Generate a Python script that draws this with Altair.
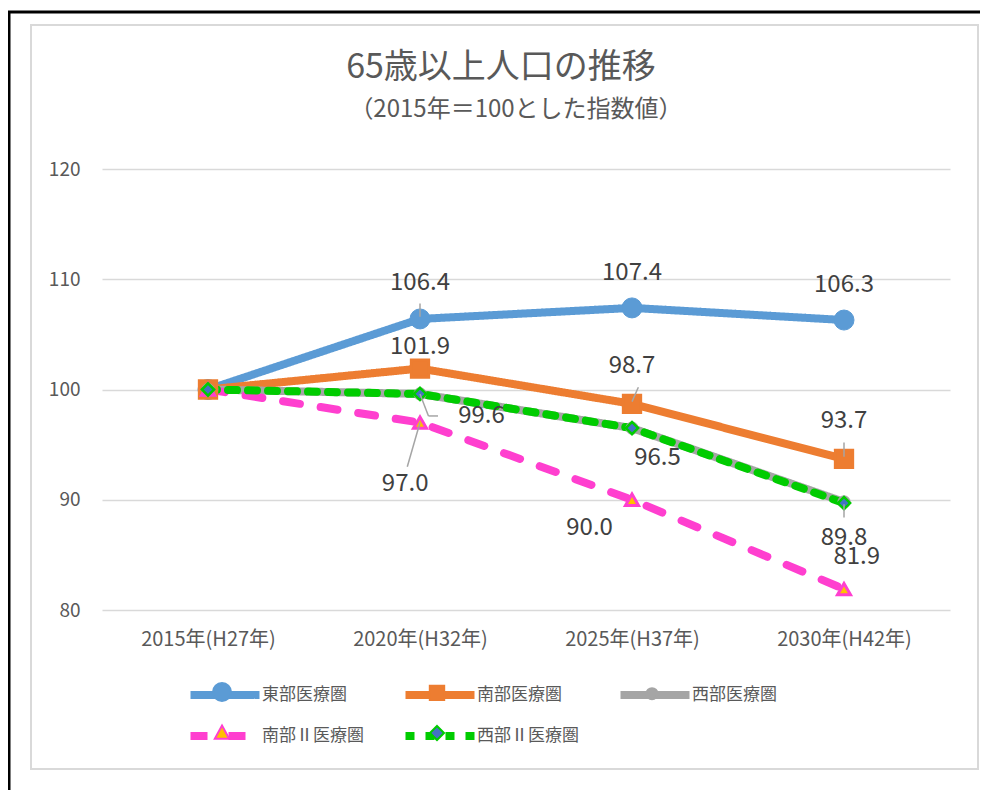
import altair as alt
import pandas as pd

# ---------------- data ----------------
title_text = "65歳以上人口の推移"
subtitle_text = "（2015年＝100とした指数値）"
categories = ["2015年(H27年)", "2020年(H32年)", "2025年(H37年)", "2030年(H42年)"]
series_names = ["東部医療圏", "南部医療圏", "西部医療圏", "南部Ⅱ医療圏", "西部Ⅱ医療圏"]
east = [100.0, 106.4, 107.4, 106.3]
south = [100.0, 101.9, 98.7, 93.7]
west = [100.0, 99.6, 96.5, 89.8]
south2 = [100.0, 97.0, 90.0, 81.9]
west2 = [100.0, 99.6, 96.5, 89.7]
series_values = [east, south, west, south2, west2]
labelled_series = [True, True, True, True, False]

# ---------------- style ----------------
FONT = "Noto Sans CJK JP"
line_colors = ["#5B9BD5", "#ED7D31", "#A5A5A5", "#FF3FCF", "#00CC00"]
line_widths = [8, 8, 4, 5, 5]
line_dashes = [[1, 0], [1, 0], [1, 0], [17, 21], [9, 11]]
marker_shapes = ["circle", "square", "circle", "triangle-up", "diamond"]
marker_fills = ["#5B9BD5", "#ED7D31", "#A5A5A5", "#FFC000", "#4472C4"]
marker_strokes = ["#5B9BD5", "#ED7D31", "#A5A5A5", "#FF3FCF", "#00CC00"]
marker_sizes = [400, 300, 150, 170, 150]
marker_stroke_w = [1, 3, 1, 3, 2.5]
# legend symbols as unit paths (scaled by the legend symbol size)
legend_line_path = "M-2.3,0H2.3"
legend_marker_paths = [
    "M-0.6,0A0.6,0.6,0,1,1,0.6,0A0.6,0.6,0,1,1,-0.6,0Z",
    "M-0.48,-0.48H0.48V0.48H-0.48Z",
    "M-0.37,0A0.37,0.37,0,1,1,0.37,0A0.37,0.37,0,1,1,-0.37,0Z",
    "M0,-0.5L0.48,0.38H-0.48Z",
    "M0,-0.47L0.47,0L0,0.47L-0.47,0Z",
]
# label placement offsets (category units, value units) for points 2020-2030
label_offsets = [
    [(0.0, 3.3), (0.0, 3.2), (0.0, 3.2)],
    [(0.0, 2.0), (0.0, 3.4), (0.0, 3.4)],
    [(0.29, -2.0), (0.12, -2.7), (0.0, -3.3)],
    [(-0.07, -5.55), (-0.2, -2.55), (0.06, 2.9)],
]
# leader lines (x1, y1, x2, y2) in data coordinates
leaders = [
    (1.0, 107.8, 1.0, 106.6),
    (2.03, 100.2, 2.0, 98.9),
    (3.0, 95.2, 3.0, 93.9),
    (1.0, 99.6, 1.04, 97.6),
    (1.04, 97.6, 1.085, 97.6),
    (3.0, 89.6, 3.0, 88.4),
    (1.0, 97.0, 0.94, 93.0),
]

# ---------------- tables ----------------
rows = []
for s, vals in zip(series_names, series_values):
    for i, v in enumerate(vals):
        rows.append({"series": s, "idx": i, "value": v})
df = pd.DataFrame(rows)

lab_rows = []
for si, (s, vals) in enumerate(zip(series_names, series_values)):
    if not labelled_series[si]:
        continue
    for k, (dx, dy) in enumerate(label_offsets[si]):
        i = k + 1
        lab_rows.append({"lx": i + dx, "ly": vals[i] + dy, "text": f"{vals[i]:.1f}"})
df_lab = pd.DataFrame(lab_rows)
df_lead = pd.DataFrame(leaders, columns=["x1", "y1", "x2", "y2"])

label_expr = "[" + ",".join(f"'{c}'" for c in categories) + "][datum.value]"

xscale = alt.Scale(domain=[-0.5, 3.5], nice=False, zero=False)
yscale = alt.Scale(domain=[80, 120], nice=False, zero=False)

x_enc = alt.X(
    "idx:Q", scale=xscale,
    axis=alt.Axis(values=[0, 1, 2, 3], labelExpr=label_expr, grid=False, ticks=False,
                  domain=False, title=None, labelFontSize=20, labelColor="#595959",
                  labelFont=FONT, labelPadding=19),
)
y_enc = alt.Y(
    "value:Q", scale=yscale,
    axis=alt.Axis(values=[80, 90, 100, 110, 120], grid=True, gridColor="#D9D9D9",
                  gridWidth=1.3, ticks=False, domain=False, title=None, labelFontSize=19,
                  labelColor="#595959", labelFont=FONT, labelPadding=22),
)

LEG_X, LEG_Y = 104, 507
common_leg = dict(title=None, orient="none", legendX=LEG_X, legendY=LEG_Y, direction="horizontal",
                  columns=3, symbolSize=900, labelFontSize=17, labelFont=FONT, labelOffset=18,
                  padding=0)
leg_line = alt.Legend(symbolType=legend_line_path, labelColor="#595959", columnPadding=25,
                      rowPadding=6, **common_leg)
# marker overlay legend (labels invisible, identical widths via zero-width space)
marker_domain = [s + "\u200b" for s in series_names]
leg_mark = alt.Legend(symbolStrokeWidth=2, labelOpacity=0, columnPadding=63, rowPadding=12,
                      **common_leg)

lines = alt.Chart(df).mark_line(strokeCap="round", strokeJoin="round").encode(
    x=x_enc,
    y=y_enc,
    color=alt.Color("series:N", sort=series_names,
                    scale=alt.Scale(domain=series_names, range=line_colors), legend=leg_line),
    strokeDash=alt.StrokeDash("series:N", sort=series_names,
                              scale=alt.Scale(domain=series_names, range=line_dashes), legend=leg_line),
    strokeWidth=alt.StrokeWidth("series:N", sort=series_names,
                                scale=alt.Scale(domain=series_names, range=line_widths), legend=leg_line),
)

legend_markers = alt.Chart(df).transform_filter(alt.datum.idx < 0).transform_calculate(
    mk="datum.series + '\u200b'"
).mark_point(filled=True, opacity=1, size=180).encode(
    x="idx:Q", y="value:Q",
    shape=alt.Shape("mk:N", scale=alt.Scale(domain=marker_domain, range=legend_marker_paths), legend=leg_mark),
    fill=alt.Fill("mk:N", scale=alt.Scale(domain=marker_domain, range=marker_fills), legend=leg_mark),
    stroke=alt.Stroke("mk:N", scale=alt.Scale(domain=marker_domain, range=marker_strokes), legend=leg_mark),
)

point_layers = []
for i, s in enumerate(series_names):
    point_layers.append(
        alt.Chart(df).transform_filter(alt.datum.series == s).mark_point(
            shape=marker_shapes[i], size=marker_sizes[i], filled=True, fill=marker_fills[i],
            stroke=marker_strokes[i], strokeWidth=marker_stroke_w[i], opacity=1,
        ).encode(x="idx:Q", y="value:Q")
    )

lead_layer = alt.Chart(df_lead).mark_rule(color="#A5A5A5", strokeWidth=1.5).encode(
    x="x1:Q", y="y1:Q", x2="x2:Q", y2="y2:Q"
)

text_layer = alt.Chart(df_lab).mark_text(fontSize=24, font=FONT, color="#404040",
                                         baseline="middle", align="center").encode(
    x="lx:Q", y="ly:Q", text="text:N"
)

dummy = pd.DataFrame({"a": [0]})
outer_top = alt.Chart(dummy).mark_rule(color="#000000", strokeWidth=3).encode(
    x=alt.value(-94), x2=alt.value(900), y=alt.value(-157))
outer_left = alt.Chart(dummy).mark_rule(color="#000000", strokeWidth=3).encode(
    x=alt.value(-93), y=alt.value(-158), y2=alt.value(640))
inner_box = alt.Chart(dummy).mark_rect(filled=False, stroke="#D9D9D9", strokeWidth=2).encode(
    x=alt.value(-71), x2=alt.value(876), y=alt.value(-144), y2=alt.value(600))
title_mark = alt.Chart(dummy).mark_text(fontSize=34, font=FONT, color="#595959",
                                        align="center", baseline="middle").encode(
    x=alt.value(399), y=alt.value(-101), text=alt.value(title_text))
subtitle_mark = alt.Chart(dummy).mark_text(fontSize=24, font=FONT, color="#595959",
                                           align="center", baseline="middle").encode(
    x=alt.value(414), y=alt.value(-59), text=alt.value(subtitle_text))

chart = alt.layer(
    outer_top, outer_left, inner_box, title_mark, subtitle_mark,
    lines, legend_markers, *point_layers, lead_layer, text_layer
).properties(
    width=848, height=441,
    padding={"left": 94, "top": 161, "right": 30, "bottom": 180},
    autosize=alt.AutoSizeParams(type="none"),
).configure_view(stroke=None)

chart.save("out.html", embed_options={"renderer": "svg", "actions": False})
